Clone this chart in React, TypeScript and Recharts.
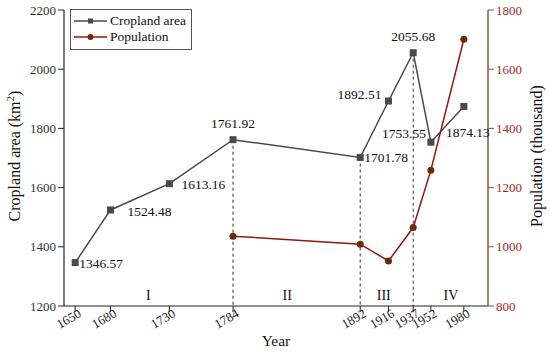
import {
  ComposedChart,
  Line,
  XAxis,
  YAxis,
  ReferenceLine,
  ReferenceDot,
} from "recharts";

const years = [1650, 1680, 1730, 1784, 1892, 1916, 1937, 1952, 1980];
const cropland = [1346.57, 1524.48, 1613.16, 1761.92, 1701.78, 1892.51, 2055.68, 1753.55, 1874.13];
const population = [null, null, null, 1036, 1009, 952, 1065, 1259, 1701];
const dividerYears = [1784, 1892, 1937];
const periods = ["I", "II", "III", "IV"];
const periodCenters = [1712, 1830, 1912, 1969];
const leftTicks = [1200, 1400, 1600, 1800, 2000, 2200];
const rightTicks = [800, 1000, 1200, 1400, 1600, 1800];

const data = years.map((year, i) => ({
  year,
  cropland: cropland[i],
  population: population[i],
}));

const FONT = "Liberation Serif";
const CROP = "#4a4a4a";
const POP = "#8b1a10";
const POP_DOT = "#6b2a0a";
const RIGHT_AXIS = "#7a5c42";
const RIGHT_TEXT = "#a3282a";

// placement of each cropland value label: [dx, dy, anchor]
const labelPlace: [number, number, string][] = [
  [4, 5, "start"],
  [17, 6, "start"],
  [12, 5, "start"],
  [0, -12, "middle"],
  [4, 5, "start"],
  [-7, -2, "end"],
  [0, -12, "middle"],
  [-5, -4, "end"],
  [4, 31, "middle"],
];

const CropLabel = (props: any) => {
  const { x, y, index, value } = props;
  const [dx, dy, anchor] = labelPlace[index];
  return (
    <text x={x + dx} y={y + dy} textAnchor={anchor} fontSize={13.5} fill="#111" fontFamily={FONT}>
      {value.toFixed(2)}
    </text>
  );
};

const YearTick = (props: any) => {
  const { x, y, payload } = props;
  const tx = x + 7;
  const ty = y + 2;
  return (
    <text
      x={tx}
      y={ty}
      transform={`rotate(-30, ${tx}, ${ty})`}
      textAnchor="end"
      fontSize={13}
      fill="#222"
      fontFamily={FONT}
    >
      {payload.value}
    </text>
  );
};

const SquareDot = (props: any) => {
  const { cx, cy } = props;
  if (cx == null || cy == null) return null;
  return <rect x={cx - 3.5} y={cy - 3.5} width={7} height={7} fill={CROP} />;
};

const LegendBox = () => (
  <div
    style={{
      position: "absolute",
      left: 70,
      top: 9,
      width: 122,
      height: 41,
      border: "1px solid #555",
      background: "#fff",
      fontFamily: FONT,
      fontSize: 13.5,
      color: "#111",
      lineHeight: "16px",
      boxSizing: "border-box",
      padding: "3px 0 0 2px",
    }}
  >
    <div style={{ display: "flex", alignItems: "center", whiteSpace: "nowrap" }}>
      <svg width={34} height={16}>
        <line x1={1} x2={34} y1={8} y2={8} stroke={CROP} strokeWidth={1.5} />
        <rect x={15} y={5.5} width={5} height={5} fill={CROP} />
      </svg>
      <span style={{ marginLeft: 3 }}>Cropland area</span>
    </div>
    <div style={{ display: "flex", alignItems: "center", whiteSpace: "nowrap" }}>
      <svg width={34} height={16}>
        <line x1={1} x2={34} y1={8} y2={8} stroke={POP} strokeWidth={1.5} />
        <circle cx={17.5} cy={8} r={3} fill={POP_DOT} />
      </svg>
      <span style={{ marginLeft: 3 }}>Population</span>
    </div>
  </div>
);

export default function App() {
  return (
    <div style={{ position: "absolute", left: 0, top: 0, width: 550, height: 352, background: "#fff" }}>
      <ComposedChart
        width={550}
        height={352}
        data={data}
        margin={{ top: 10, right: 2, bottom: 0, left: 4 }}
      >
        <XAxis
          dataKey="year"
          type="number"
          domain={[1640.5, 2000.5]}
          ticks={years}
          interval={0}
          tick={<YearTick />}
          tickLine={{ stroke: "#222" }}
          axisLine={{ stroke: "#222", strokeWidth: 1.2 }}
          height={46}
          label={() => (
            <text x={276} y={346} textAnchor="middle" fontSize={15.5} fill="#111" fontFamily={FONT}>
              Year
            </text>
          )}
        />
        <YAxis
          yAxisId="left"
          domain={[1200, 2200]}
          ticks={leftTicks}
          width={60}
          tick={{ fill: "#333", fontSize: 13, fontFamily: FONT }}
          tickLine={{ stroke: "#222" }}
          axisLine={{ stroke: "#222", strokeWidth: 1.2 }}
          label={() => {
            const cx = 20;
            const cy = 156;
            return (
              <text
                x={cx}
                y={cy}
                transform={`rotate(-90, ${cx}, ${cy})`}
                textAnchor="middle"
                fontSize={16}
                fill="#111"
                fontFamily={FONT}
              >
                Cropland area (km
                <tspan dy={-6} fontSize={11}>2</tspan>
                <tspan dy={6}>)</tspan>
              </text>
            );
          }}
        />
        <YAxis
          yAxisId="right"
          orientation="right"
          domain={[800, 1800]}
          ticks={rightTicks}
          width={60}
          tick={{ fill: RIGHT_TEXT, fontSize: 13, fontFamily: FONT }}
          tickLine={{ stroke: RIGHT_AXIS }}
          axisLine={{ stroke: RIGHT_AXIS, strokeWidth: 1.5 }}
          label={() => {
            const cx = 542;
            const cy = 156;
            return (
              <text
                x={cx}
                y={cy}
                transform={`rotate(-90, ${cx}, ${cy})`}
                textAnchor="middle"
                fontSize={16}
                fill="#111"
                fontFamily={FONT}
              >
                Population (thousand)
              </text>
            );
          }}
        />
        {dividerYears.map((yr) => (
          <ReferenceLine
            key={yr}
            yAxisId="left"
            segment={[
              { x: yr, y: cropland[years.indexOf(yr)] },
              { x: yr, y: 1200 },
            ]}
            stroke="#333"
            strokeDasharray="3 3"
          />
        ))}
        {periods.map((p, i) => (
          <ReferenceDot
            key={p}
            yAxisId="left"
            x={periodCenters[i]}
            y={1237}
            r={0}
            label={{ value: p, fill: "#111", fontSize: 14, fontFamily: FONT }}
          />
        ))}
        <Line
          yAxisId="left"
          type="linear"
          dataKey="cropland"
          stroke={CROP}
          strokeWidth={1.5}
          dot={<SquareDot />}
          label={<CropLabel />}
          isAnimationActive={false}
        />
        <Line
          yAxisId="right"
          type="linear"
          dataKey="population"
          stroke={POP}
          strokeWidth={1.5}
          dot={{ r: 3.5, fill: POP_DOT, stroke: POP_DOT, strokeWidth: 0 }}
          isAnimationActive={false}
        />
      </ComposedChart>
      <LegendBox />
    </div>
  );
}
